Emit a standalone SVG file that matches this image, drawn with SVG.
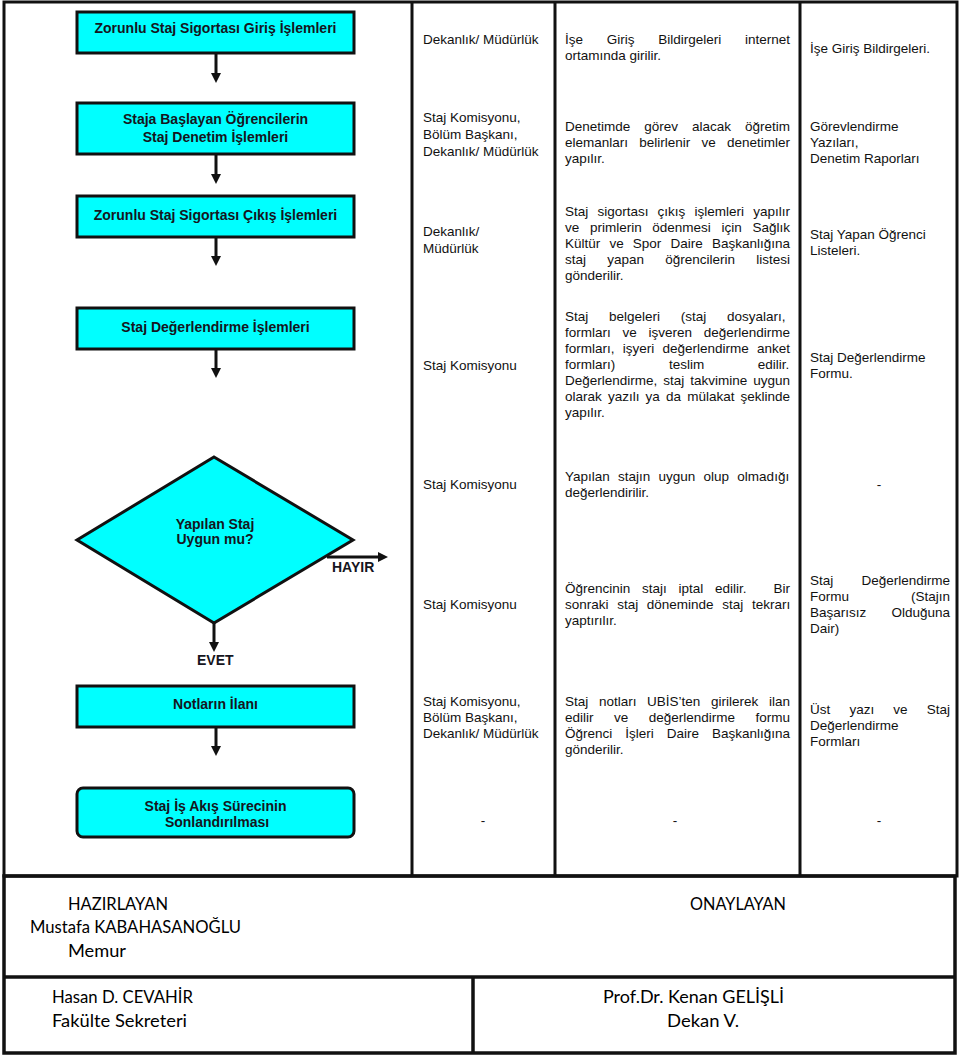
<svg xmlns="http://www.w3.org/2000/svg" width="960" height="1057" viewBox="0 0 960 1057">
<style>
.frame{fill:none;stroke:#111;stroke-width:3}
.box{fill:#00FFFF;stroke:#111;stroke-width:3}
.con{stroke:#111;stroke-width:3;fill:none}
.b{font-family:"Liberation Sans",Arial,sans-serif;font-weight:bold;font-size:14px;fill:#151520;text-anchor:middle}
.bl{font-family:"Liberation Sans",Arial,sans-serif;font-weight:bold;font-size:14px;fill:#151520}
.t{font-family:"Liberation Sans",Arial,sans-serif;font-size:13.5px;fill:#111}
.c{text-anchor:middle}
.e{text-anchor:end}
.s{font-family:Lato,"Open Sans",sans-serif;font-size:18px;fill:#000}
</style>
<defs>
<marker id="ah" markerUnits="userSpaceOnUse" viewBox="0 0 10 10" refX="2" refY="5" markerWidth="10" markerHeight="10" orient="auto">
<path d="M0,0 L10,5 L0,10 z" fill="#111"/>
</marker>
</defs>
<rect width="960" height="1057" fill="#fff"/>

<g id="table">
<rect class="frame" x="4" y="2" width="953" height="874"/>
<line class="frame" x1="412" y1="2" x2="412" y2="876"/>
<line class="frame" x1="555" y1="2" x2="555" y2="876"/>
<line class="frame" x1="800" y1="2" x2="800" y2="876"/>
</g>

<g id="connectors">
<line class="con" x1="216" y1="53" x2="216" y2="75" marker-end="url(#ah)"/>
<line class="con" x1="216" y1="154" x2="216" y2="176" marker-end="url(#ah)"/>
<line class="con" x1="216" y1="237" x2="216" y2="258" marker-end="url(#ah)"/>
<line class="con" x1="216" y1="349" x2="216" y2="370" marker-end="url(#ah)"/>
<line class="con" x1="327" y1="557" x2="380" y2="557" marker-end="url(#ah)"/>
<text class="bl" x="332" y="572">HAYIR</text>
<line class="con" x1="214" y1="623" x2="214" y2="644" marker-end="url(#ah)"/>
<text class="bl" x="197" y="665">EVET</text>
<line class="con" x1="216" y1="727" x2="216" y2="748" marker-end="url(#ah)"/>
</g>

<g id="n1">
<rect class="box" x="77" y="12" width="277" height="41"/>
<text class="b" x="215.5" y="33">Zorunlu Staj Sigortası Giriş İşlemleri</text>
</g>
<g id="n2">
<rect class="box" x="77" y="103" width="277" height="51"/>
<text class="b" x="215.5" y="124">Staja Başlayan Öğrencilerin</text>
<text class="b" x="215.5" y="142">Staj Denetim İşlemleri</text>
</g>
<g id="n3">
<rect class="box" x="77" y="196" width="277" height="41"/>
<text class="b" x="215.5" y="220">Zorunlu Staj Sigortası Çıkış İşlemleri</text>
</g>
<g id="n4">
<rect class="box" x="77" y="308" width="277" height="41"/>
<text class="b" x="215.5" y="332">Staj Değerlendirme İşlemleri</text>
</g>
<g id="n5">
<polygon class="box" points="214,457 353,540 214,623 77,540"/>
<text class="b" x="215" y="529">Yapılan Staj</text>
<text class="b" x="215" y="544">Uygun mu?</text>
</g>
<g id="n6">
<rect class="box" x="77" y="686" width="277" height="41"/>
<text class="b" x="215.5" y="709">Notların İlanı</text>
</g>
<g id="n7">
<rect class="box" x="77" y="788" width="277" height="49" rx="6"/>
<text class="b" x="215.5" y="811">Staj İş Akış Sürecinin</text>
<text class="b" x="217" y="827">Sonlandırılması</text>
</g>

<g id="row1">
<text class="t" x="423" y="44">Dekanlık/ Müdürlük</text>
<text class="t" x="565" y="44" style="word-spacing:20px">İşe Giriş Bildirgeleri internet</text>
<text class="t" x="565" y="60">ortamında girilir.</text>
<text class="t" x="810" y="53">İşe Giriş Bildirgeleri.</text>
</g>
<g id="row2">
<text class="t" x="423" y="122">Staj Komisyonu,</text>
<text class="t" x="423" y="139">Bölüm Başkanı,</text>
<text class="t" x="423" y="156">Dekanlık/ Müdürlük</text>
<text class="t" x="565" y="131" style="word-spacing:10.2px">Denetimde görev alacak öğretim</text>
<text class="t" x="565" y="147" style="word-spacing:7.5px">elemanları belirlenir ve denetimler</text>
<text class="t" x="565" y="163">yapılır.</text>
<text class="t" x="810" y="131">Görevlendirme</text>
<text class="t" x="810" y="147">Yazıları,</text>
<text class="t" x="810" y="163">Denetim Raporları</text>
</g>
<g id="row3">
<text class="t" x="423" y="236">Dekanlık/</text>
<text class="t" x="423" y="253">Müdürlük</text>
<text class="t" x="565" y="216" style="word-spacing:5.4px">Staj sigortası çıkış işlemleri yapılır</text>
<text class="t" x="565" y="232" style="word-spacing:6.9px">ve primlerin ödenmesi için Sağlık</text>
<text class="t" x="565" y="248" style="word-spacing:5.4px">Kültür ve Spor Daire Başkanlığına</text>
<text class="t" x="565" y="264" style="word-spacing:17.5px">staj yapan öğrencilerin listesi</text>
<text class="t" x="565" y="280">gönderilir.</text>
<text class="t" x="810" y="239">Staj Yapan Öğrenci</text>
<text class="t" x="810" y="255">Listeleri.</text>
</g>
<g id="row4">
<text class="t" x="423" y="370">Staj Komisyonu</text>
<text class="t" x="565" y="321" style="word-spacing:17px">Staj belgeleri (staj dosyaları,</text>
<text class="t" x="565" y="337" style="word-spacing:8px">formları ve işveren değerlendirme</text>
<text class="t" x="565" y="353" style="word-spacing:4.5px">formları, işyeri değerlendirme anket</text>
<text class="t" x="565" y="369" style="word-spacing:49.9px">formları) teslim edilir.</text>
<text class="t" x="565" y="385" style="word-spacing:2.2px">Değerlendirme, staj takvimine uygun</text>
<text class="t" x="565" y="401" style="word-spacing:2.4px">olarak yazılı ya da mülakat şeklinde</text>
<text class="t" x="565" y="417">yapılır.</text>
<text class="t" x="810" y="362">Staj Değerlendirme</text>
<text class="t" x="810" y="378">Formu.</text>
</g>
<g id="row5">
<text class="t" x="423" y="489">Staj Komisyonu</text>
<text class="t" x="565" y="481" style="word-spacing:4.5px">Yapılan stajın uygun olup olmadığı</text>
<text class="t" x="565" y="497">değerlendirilir.</text>
<text class="t c" x="879" y="489">-</text>
</g>
<g id="row6">
<text class="t" x="423" y="609">Staj Komisyonu</text>
<text class="t" x="565" y="593" style="word-spacing:8px">Öğrencinin stajı iptal edilir.</text>
<text class="t e" x="790" y="593">Bir</text>
<text class="t" x="565" y="609" style="word-spacing:4.9px">sonraki staj döneminde staj tekrarı</text>
<text class="t" x="565" y="625">yaptırılır.</text>
<text class="t" x="810" y="585" style="word-spacing:24.5px">Staj Değerlendirme</text>
<text class="t" x="810" y="601" style="word-spacing:58.2px">Formu (Stajın</text>
<text class="t" x="810" y="617" style="word-spacing:21.4px">Başarısız Olduğuna</text>
<text class="t" x="810" y="633">Dair)</text>
</g>
<g id="row7">
<text class="t" x="423" y="706">Staj Komisyonu,</text>
<text class="t" x="423" y="722">Bölüm Başkanı,</text>
<text class="t" x="423" y="738">Dekanlık/ Müdürlük</text>
<text class="t" x="565" y="706" style="word-spacing:6.9px">Staj notları UBİS’ten girilerek ilan</text>
<text class="t" x="565" y="722" style="word-spacing:16.7px">edilir ve değerlendirme formu</text>
<text class="t" x="565" y="738" style="word-spacing:9.2px">Öğrenci İşleri Daire Başkanlığına</text>
<text class="t" x="565" y="754">gönderilir.</text>
<text class="t" x="810" y="714" style="word-spacing:15.4px">Üst yazı ve Staj</text>
<text class="t" x="810" y="730">Değerlendirme</text>
<text class="t" x="810" y="746">Formları</text>
</g>
<g id="row8">
<text class="t c" x="483" y="825">-</text>
<text class="t c" x="675" y="825">-</text>
<text class="t c" x="879" y="825">-</text>
</g>

<g id="signatures">
<rect x="4" y="876" width="951" height="177" fill="none" stroke="#111" stroke-width="3.5"/>
<line x1="4" y1="977" x2="955" y2="977" stroke="#111" stroke-width="3.5"/>
<line x1="473" y1="977" x2="473" y2="1053" stroke="#111" stroke-width="3.5"/>
<text class="s" x="68" y="910" textLength="100" lengthAdjust="spacingAndGlyphs">HAZIRLAYAN</text>
<text class="s" x="30" y="933" textLength="211" lengthAdjust="spacingAndGlyphs">Mustafa KABAHASANOĞLU</text>
<text class="s" x="68" y="957" textLength="58" lengthAdjust="spacingAndGlyphs">Memur</text>
<text class="s" x="690" y="910" textLength="96" lengthAdjust="spacingAndGlyphs">ONAYLAYAN</text>
<text class="s" x="52" y="1003" textLength="141" lengthAdjust="spacingAndGlyphs">Hasan D. CEVAHİR</text>
<text class="s" x="52" y="1027" textLength="135" lengthAdjust="spacingAndGlyphs">Fakülte  Sekreteri</text>
<text class="s" x="603" y="1003" textLength="181" lengthAdjust="spacingAndGlyphs">Prof.Dr.  Kenan  GELİŞLİ</text>
<text class="s" x="667" y="1027" textLength="72" lengthAdjust="spacingAndGlyphs">Dekan  V.</text>
</g>
</svg>
